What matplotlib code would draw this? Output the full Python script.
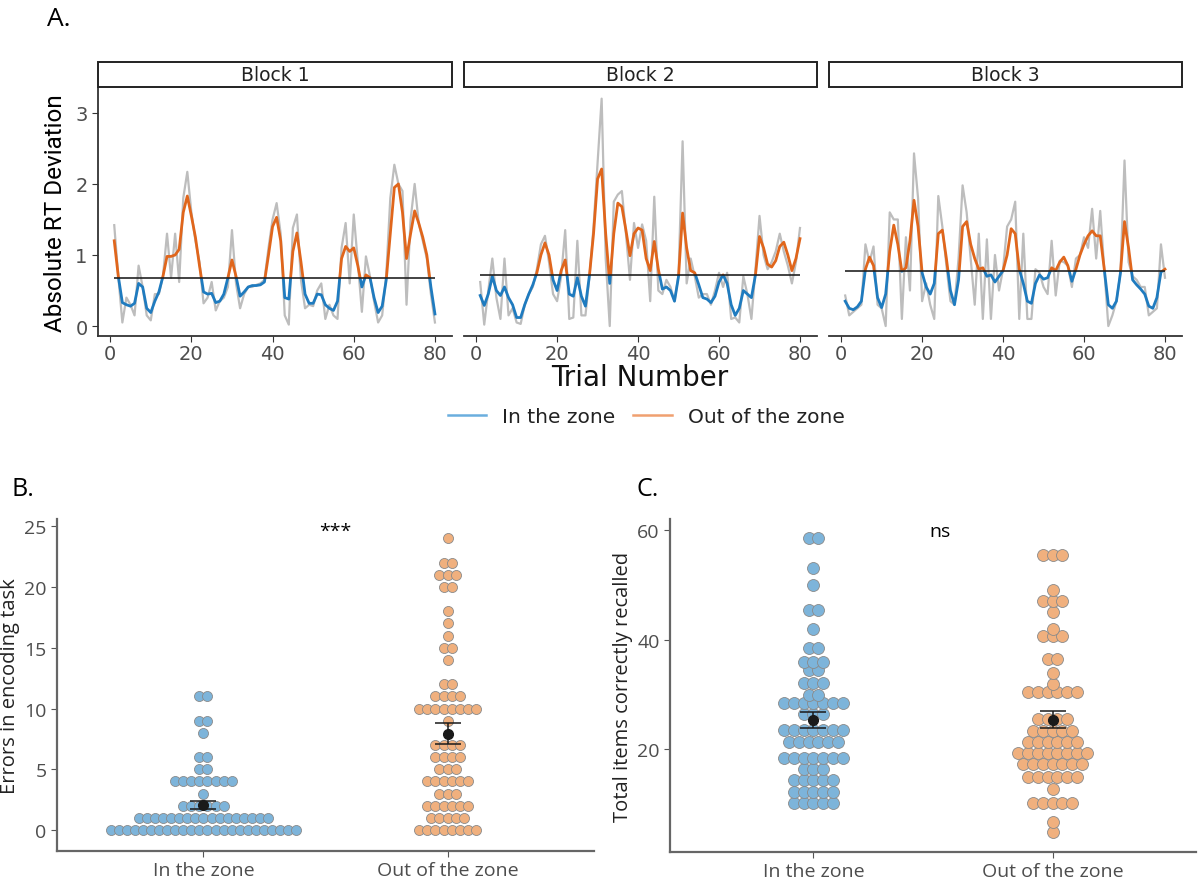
import numpy as np
import matplotlib
matplotlib.use("Agg")
import matplotlib.pyplot as plt
from matplotlib.patches import Rectangle
from matplotlib.lines import Line2D

# --------------------------
# Data: panel A (absolute RT deviation per trial)
# --------------------------
trials = np.arange(1, 81)
blocks = ["Block 1", "Block 2", "Block 3"]
thresholds = [0.67, 0.72, 0.77]

raw1 = [1.42, 0.70, 0.05, 0.40, 0.30, 0.15, 0.85, 0.55, 0.15, 0.08,
        0.45, 0.45, 0.70, 1.30, 0.68, 1.30, 0.62, 1.80, 2.17, 1.60,
        1.20, 0.90, 0.32, 0.40, 0.62, 0.22, 0.35, 0.40, 0.55, 1.35,
        0.60, 0.25, 0.45, 0.55, 0.55, 0.58, 0.60, 0.65, 1.10, 1.50,
        1.73, 1.30, 0.15, 0.02, 1.38, 1.57, 0.65, 0.25, 0.30, 0.28,
        0.50, 0.60, 0.10, 0.30, 0.15, 0.10, 1.10, 1.45, 0.60, 1.57,
        0.90, 0.20, 0.98, 0.70, 0.35, 0.05, 0.15, 0.72, 1.80, 2.27,
        2.00, 1.90, 0.30, 1.50, 2.00, 1.45, 1.20, 0.95, 0.45, 0.05]
smooth1 = [1.20, 0.70, 0.33, 0.30, 0.28, 0.32, 0.60, 0.55, 0.25, 0.19,
           0.35, 0.48, 0.70, 0.98, 0.98, 1.00, 1.08, 1.60, 1.83, 1.55,
           1.25, 0.85, 0.48, 0.45, 0.46, 0.33, 0.35, 0.45, 0.68, 0.93,
           0.70, 0.42, 0.48, 0.55, 0.57, 0.57, 0.58, 0.62, 1.00, 1.40,
           1.53, 1.20, 0.40, 0.38, 1.05, 1.31, 0.90, 0.45, 0.32, 0.32,
           0.45, 0.44, 0.30, 0.25, 0.22, 0.35, 0.95, 1.12, 1.05, 1.10,
           0.85, 0.55, 0.72, 0.68, 0.40, 0.19, 0.28, 0.65, 1.30, 1.95,
           2.00, 1.60, 0.95, 1.30, 1.62, 1.45, 1.25, 1.00, 0.55, 0.17]

raw2 = [0.62, 0.02, 0.50, 0.95, 0.40, 0.10, 0.95, 0.15, 0.25, 0.05,
        0.03, 0.30, 0.45, 0.55, 0.80, 1.15, 1.27, 0.90, 0.45, 0.35,
        0.70, 1.35, 0.10, 0.12, 1.20, 0.15, 0.15, 0.70, 1.40, 2.30,
        3.20, 0.95, 0.00, 1.75, 1.85, 1.90, 1.30, 0.65, 1.45, 1.10,
        1.43, 1.20, 0.35, 1.82, 0.50, 0.45, 0.65, 0.55, 0.35, 0.72,
        2.60, 0.60, 0.95, 0.70, 0.40, 0.45, 0.45, 0.30, 0.50, 0.75,
        0.55, 0.75, 0.10, 0.12, 0.05, 0.70, 0.45, 0.10, 0.80, 1.55,
        1.00, 0.80, 0.90, 1.05, 1.30, 1.05, 0.85, 0.60, 0.90, 1.38]
smooth2 = [0.43, 0.29, 0.45, 0.70, 0.50, 0.43, 0.55, 0.40, 0.30, 0.12,
           0.12, 0.30, 0.45, 0.58, 0.75, 1.00, 1.17, 1.00, 0.65, 0.50,
           0.78, 0.93, 0.45, 0.42, 0.68, 0.42, 0.28, 0.72, 1.30, 2.07,
           2.21, 1.30, 0.60, 1.30, 1.73, 1.68, 1.35, 0.99, 1.30, 1.38,
           1.35, 0.95, 0.78, 1.19, 0.80, 0.52, 0.55, 0.50, 0.35, 0.70,
           1.59, 1.10, 0.78, 0.75, 0.58, 0.40, 0.38, 0.33, 0.42, 0.62,
           0.72, 0.60, 0.30, 0.15, 0.25, 0.50, 0.45, 0.40, 0.72, 1.26,
           1.10, 0.87, 0.83, 0.92, 1.12, 1.18, 1.00, 0.78, 0.95, 1.23]

raw3 = [0.43, 0.15, 0.20, 0.25, 0.30, 1.15, 0.90, 1.12, 0.30, 0.25,
        0.00, 1.60, 1.50, 1.50, 0.10, 1.25, 0.50, 2.43, 1.80, 0.35,
        0.60, 0.30, 0.10, 1.83, 1.40, 0.85, 0.35, 0.30, 0.95, 1.98,
        1.60, 0.95, 0.30, 1.30, 0.10, 1.22, 0.10, 1.00, 0.50, 0.80,
        1.40, 1.50, 1.75, 0.10, 1.30, 0.10, 0.10, 0.80, 0.75, 0.55,
        0.45, 1.20, 0.43, 0.92, 0.90, 0.85, 0.55, 0.95, 1.00, 1.25,
        1.10, 1.65, 0.95, 1.62, 0.80, 0.00, 0.15, 0.35, 0.75, 2.33,
        0.90, 0.70, 0.65, 0.55, 0.55, 0.15, 0.20, 0.25, 1.15, 0.68]
smooth3 = [0.35, 0.25, 0.23, 0.27, 0.35, 0.80, 0.97, 0.85, 0.40, 0.26,
           0.45, 1.05, 1.42, 1.15, 0.77, 0.82, 1.20, 1.77, 1.40, 0.75,
           0.55, 0.45, 0.60, 1.30, 1.35, 0.95, 0.50, 0.30, 0.65, 1.40,
           1.47, 1.15, 0.95, 0.80, 0.82, 0.70, 0.72, 0.62, 0.70, 0.78,
           1.00, 1.37, 1.30, 0.80, 0.60, 0.35, 0.32, 0.60, 0.72, 0.66,
           0.68, 0.82, 0.78, 0.90, 0.97, 0.85, 0.63, 0.80, 1.00, 1.15,
           1.27, 1.34, 1.27, 1.27, 0.80, 0.30, 0.25, 0.35, 0.75, 1.47,
           1.10, 0.65, 0.58, 0.52, 0.45, 0.28, 0.25, 0.40, 0.76, 0.80]

raws = [raw1, raw2, raw3]
smooths = [smooth1, smooth2, smooth3]

# --------------------------
# Data: panels B and C (dot plots, value bins and dot counts)
# --------------------------
groups = ["In the zone", "Out of the zone"]

err_in_vals = [0, 1, 2, 3, 4, 5, 6, 8, 9, 11]
err_in_counts = [24, 17, 6, 1, 8, 2, 2, 1, 2, 2]
err_out_vals = [0, 1, 2, 3, 4, 5, 6, 7, 9, 10, 11, 12, 14, 15, 16, 17, 18, 20, 21, 22, 24]
err_out_counts = [8, 5, 6, 3, 6, 3, 4, 4, 1, 8, 4, 2, 1, 2, 1, 1, 1, 2, 3, 2, 1]

rec_in_vals = [10.3, 12.3, 14.4, 16.4, 18.4, 21.4, 23.5, 26.5, 28.5, 30.0,
               32.1, 34.5, 36.0, 38.5, 42.0, 45.5, 50.0, 53.0, 58.6]
rec_in_counts = [5, 5, 5, 3, 7, 6, 7, 3, 7, 2, 3, 2, 3, 2, 1, 2, 1, 1, 2]
rec_out_vals = [4.9, 6.8, 10.3, 12.8, 14.9, 17.3, 19.3, 21.4, 23.4, 25.5,
                30.5, 31.9, 33.9, 36.5, 40.6, 42.0, 45.0, 47.0, 49.1, 55.5]
rec_out_counts = [1, 1, 5, 1, 6, 7, 8, 6, 5, 4, 6, 1, 1, 2, 3, 1, 1, 3, 1, 3]

# --------------------------
# Style
# --------------------------
W, H = 1202, 879
BLUE = "#1f7bbf"
ORANGE = "#e0661c"
BLUE_DOT = "#7db4da"
ORANGE_DOT = "#f0b07e"
TICK_GRAY = "#4d4d4d"

fig = plt.figure(figsize=(W / 100, H / 100), dpi=100)


def px_axes(l, t, r, b):
    return fig.add_axes([l / W, 1 - b / H, (r - l) / W, (b - t) / H])


# --------------------------
# Panel A
# --------------------------
panel_x = [(98, 452), (464, 817), (829, 1182)]
for i, (l, r) in enumerate(panel_x):
    ax = px_axes(l, 89, r, 337)
    ax.plot(trials, raws[i], color="#bdbdbd", lw=1.6, zorder=1)
    thr = thresholds[i]
    up = ax.plot(trials, smooths[i], color=ORANGE, lw=2.0, zorder=2)[0]
    dn = ax.plot(trials, smooths[i], color=BLUE, lw=2.0, zorder=2)[0]
    up.set_clip_path(Rectangle((-10, thr), 200, 20, transform=ax.transData))
    dn.set_clip_path(Rectangle((-10, -20), 200, 20 + thr, transform=ax.transData))
    ax.hlines(thr, 1, 80, color="#222222", lw=1.2, zorder=3)
    ax.set_xlim(-3, 84.2)
    ax.set_ylim(-0.14, 3.35)
    ax.set_xticks([0, 20, 40, 60, 80])
    ax.tick_params(axis="x", colors="#333333", labelcolor=TICK_GRAY, labelsize=14, length=4, pad=2)
    for s in ["top", "right"]:
        ax.spines[s].set_visible(False)
    ax.spines["bottom"].set_color("#333333")
    ax.spines["bottom"].set_linewidth(1.3)
    if i == 0:
        ax.set_yticks([0, 1, 2, 3])
        ax.tick_params(axis="y", colors="#333333", labelcolor=TICK_GRAY, labelsize=14, length=4)
        ax.spines["left"].set_color("#333333")
        ax.spines["left"].set_linewidth(1.3)
        ax.set_ylabel("Absolute RT Deviation", fontsize=17.5, family="Roboto", color="black", labelpad=6)
    else:
        ax.spines["left"].set_visible(False)
        ax.set_yticks([])
    # facet strip
    fig.patches.append(Rectangle((l / W, 1 - 88 / H), (r - l) / W, 25 / H, transform=fig.transFigure,
                                 facecolor="white", edgecolor="#222222", lw=1.4))
    fig.text((l + r) / 2 / W, 1 - 75.5 / H, blocks[i], ha="center", va="center", fontsize=13.5, color="#222222")

fig.text(640 / W, 1 - 378 / H, "Trial Number", ha="center", va="center", fontsize=20, color="#111111")
fig.text(47 / W, 1 - 19 / H, "A.", ha="left", va="center", fontsize=19, family="Open Sans")

handles = [Line2D([0], [0], color="#6aaede", lw=1.8), Line2D([0], [0], color="#f0a070", lw=1.8)]
fig.legend(handles, groups, loc="center", bbox_to_anchor=(646 / W, 1 - 418 / H), ncol=2, frameon=False,
           fontsize=14.5, handlelength=1.9, columnspacing=0.9, handletextpad=0.8, labelcolor="#222222")


# --------------------------
# Panels B and C
# --------------------------
def dotplot(ax, pos, vals, counts, dx, color, size):
    xs, ys = [], []
    for v, n in zip(vals, counts):
        for k in range(n):
            xs.append(pos + (k - (n - 1) / 2) * dx)
            ys.append(v)
    ax.scatter(xs, ys, s=size, color=color, edgecolor="#8a8a8a", linewidth=0.6, zorder=2)
    data = np.repeat(vals, counts)
    m = data.mean()
    se = data.std(ddof=1) / np.sqrt(len(data))
    ax.errorbar(pos, m, yerr=se, fmt="o", color="#1a1a1a", ms=7, capsize=9.5, elinewidth=1.1,
                capthick=1.1, zorder=3)


def style_bottom(ax, ylabel):
    for s in ["top", "right"]:
        ax.spines[s].set_visible(False)
    for s in ["left", "bottom"]:
        ax.spines[s].set_color("#666666")
        ax.spines[s].set_linewidth(1.6)
    ax.set_xlim(0.4, 2.6)
    ax.set_xticks([1, 2])
    ax.set_xticklabels(groups, family="Open Sans")
    ax.tick_params(colors="#555555", labelcolor=TICK_GRAY, labelsize=14, length=4)
    for lab in ax.get_yticklabels():
        lab.set_family("Open Sans")
    ax.set_ylabel(ylabel, fontsize=14.5, family="Open Sans", color="#222222", labelpad=3)


axB = px_axes(57, 520, 594, 852)
dotplot(axB, 1, err_in_vals, err_in_counts, 0.033, BLUE_DOT, 52)
dotplot(axB, 2, err_out_vals, err_out_counts, 0.033, ORANGE_DOT, 52)
axB.set_ylim(-1.73, 25.6)
axB.set_yticks([0, 5, 10, 15, 20, 25])
style_bottom(axB, "Errors in encoding task")
axB.text(1.54, 24.6, "***", ha="center", va="center", fontsize=14, family="Open Sans")
fig.text(12 / W, 1 - 490 / H, "B.", ha="left", va="center", fontsize=18, family="Open Sans")

axC = px_axes(670, 520, 1196, 853)
dotplot(axC, 1, rec_in_vals, rec_in_counts, 0.041, BLUE_DOT, 74)
dotplot(axC, 2, rec_out_vals, rec_out_counts, 0.041, ORANGE_DOT, 74)
axC.set_ylim(1.3, 62.0)
axC.set_yticks([20, 40, 60])
style_bottom(axC, "Total items correctly recalled")
axC.text(1.53, 59.8, "ns", ha="center", va="center", fontsize=14, family="Open Sans")
fig.text(637 / W, 1 - 490 / H, "C.", ha="left", va="center", fontsize=18, family="Open Sans")

fig.savefig("out.png", dpi=100)
